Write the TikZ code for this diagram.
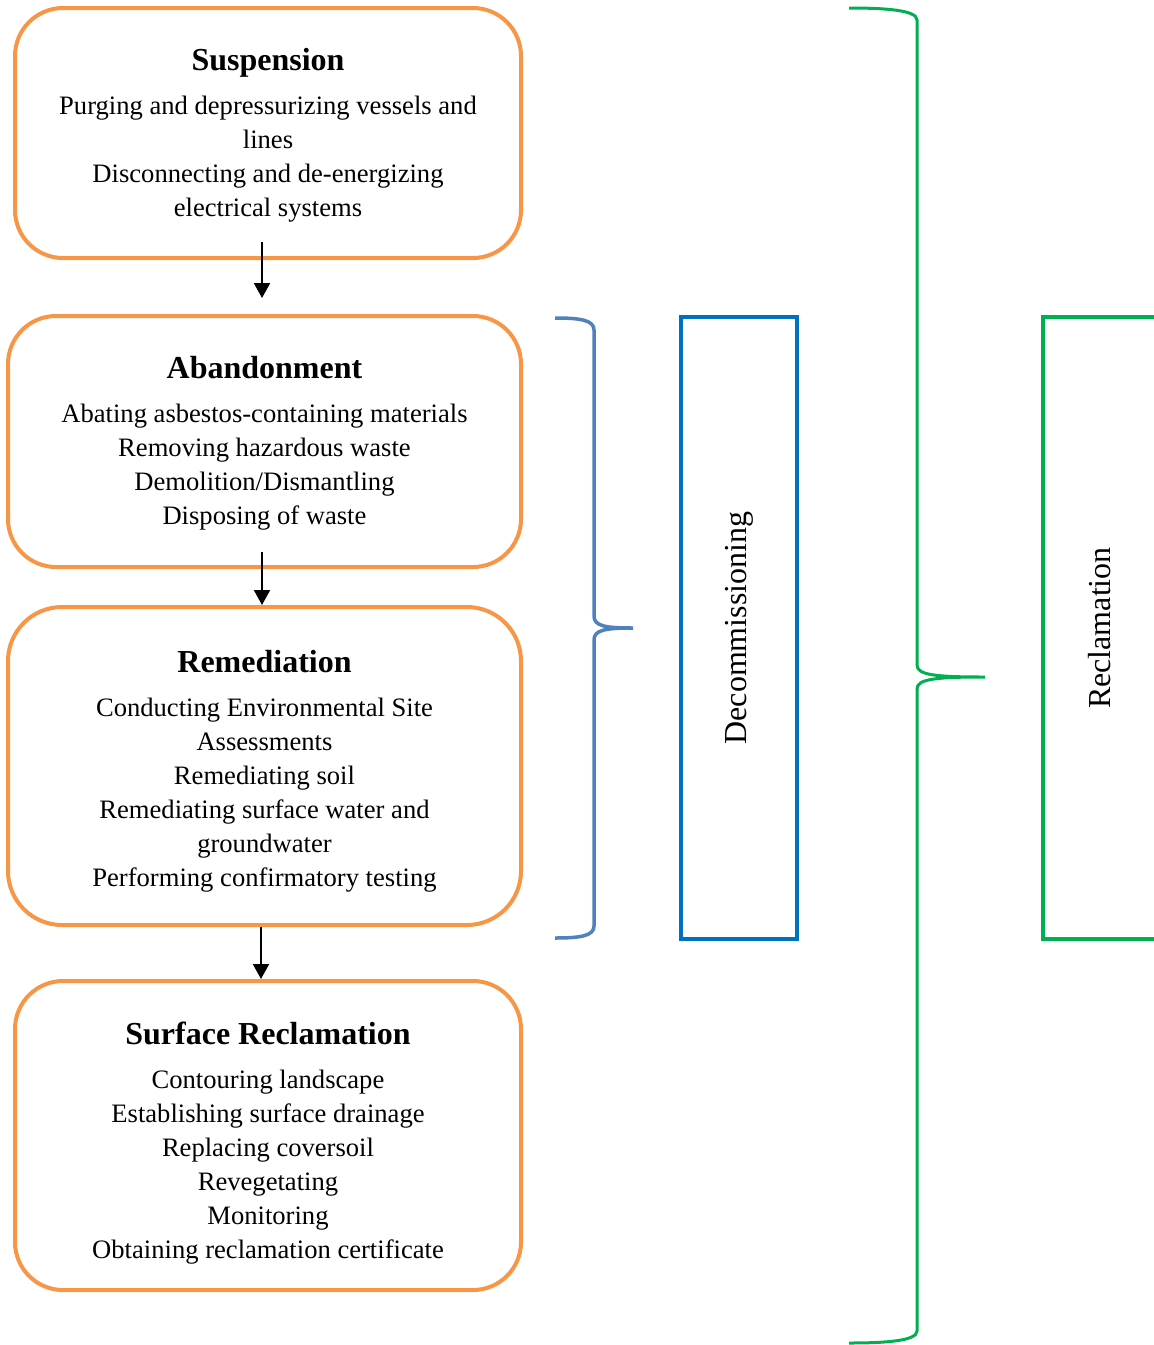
\documentclass[tikz,border=0pt]{standalone}
\usepackage{fontspec}
\setmainfont{Liberation Serif}
\usetikzlibrary{arrows.meta}
\definecolor{orangeB}{HTML}{F79646}
\definecolor{blueB}{HTML}{4F81BD}
\definecolor{blueR}{HTML}{0070C0}
\definecolor{greenB}{HTML}{00B050}
\tikzset{
  stagebox/.style={draw=orangeB, line width=2pt, rounded corners=24pt, inner sep=0pt},
  stagetext/.style={inner sep=0pt, align=center, font=\fontsize{13.3}{17}\selectfont},
  flowarrow/.style={line width=1pt, -{Triangle[length=7.5pt,width=8pt]}},
}
\newcommand{\stagetitle}[1]{{\fontsize{16}{17}\selectfont\bfseries #1}\\[5pt]}
\begin{document}
\begin{tikzpicture}[x=0.5pt,y=-0.5pt]
\useasboundingbox (0,0) rectangle (1154,1345);

\node[stagebox, minimum width=253pt, minimum height=125pt] (s) at (268,133) {};
\node[stagetext] (st) at ([yshift=-1pt]s.center)
  {\stagetitle{Suspension}Purging and depressurizing vessels and\\lines\\Disconnecting and de-energizing\\electrical systems};
\node[stagebox, minimum width=256.5pt, minimum height=125.5pt] (a) at (264.5,441.5) {};
\node[stagetext] (at) at ([yshift=-1pt]a.center)
  {\stagetitle{Abandonment}Abating asbestos-containing materials\\Removing hazardous waste\\Demolition/Dismantling\\Disposing of waste};
\node[stagebox, rounded corners=27pt, minimum width=256.5pt, minimum height=159pt] (r) at (264.5,766) {};
\node[stagetext] (rt) at ([yshift=-2.5pt]r.center)
  {\stagetitle{Remediation}Conducting Environmental Site\\Assessments\\Remediating soil\\Remediating surface water and\\groundwater\\Performing confirmatory testing};
\node[stagebox, minimum width=253pt, minimum height=154.5pt] (f) at (268,1135.5) {};
\node[stagetext] (ft) at ([yshift=-4pt]f.center)
  {\stagetitle{Surface Reclamation}Contouring landscape\\Establishing surface drainage\\Replacing coversoil\\Revegetating\\Monitoring\\Obtaining reclamation certificate};

\draw[flowarrow] ([xshift=-3pt,yshift=9pt]s.south) -- ([xshift=-1.25pt,yshift=8pt]a.north);
\draw[flowarrow] ([xshift=-1.25pt,yshift=8.5pt]a.south) -- ([xshift=-1.25pt]r.north);
\draw[flowarrow] ([xshift=-1.75pt]r.south) -- ([xshift=-3.5pt]f.north);

% blue brace
\draw[blueB, line width=1.75pt] (555,318) .. controls (580,318) and (594,320) .. (594,330)
  -- (594,616) .. controls (594,626) and (605,628) .. (633,628)
  .. controls (605,628) and (594,630) .. (594,640)
  -- (594,926) .. controls (594,936) and (580,938) .. (555,938);

% green brace
\draw[greenB, line width=1.5pt] (849,8) .. controls (885,8) and (917,10) .. (917,20)
  -- (917,665) .. controls (917,675) and (935,677) .. (985,677)
  .. controls (935,677) and (917,679) .. (917,689)
  -- (917,1331) .. controls (917,1341) and (885,1343) .. (849,1343);

\node[draw=blueR, line width=2pt, minimum width=58pt, minimum height=311pt, inner sep=0pt] (dec) at (739,628) {};
\node[rotate=90, font=\fontsize{16}{18}\selectfont] (dect) at (dec.center) {Decommissioning};

\node[draw=greenB, line width=2pt, minimum width=64pt, minimum height=311pt, inner sep=0pt] (rec) at (1107,628) {};
\node[rotate=90, font=\fontsize{16}{18}\selectfont] (rect) at (1100,628) {Reclamation};
\end{tikzpicture}
\end{document}
